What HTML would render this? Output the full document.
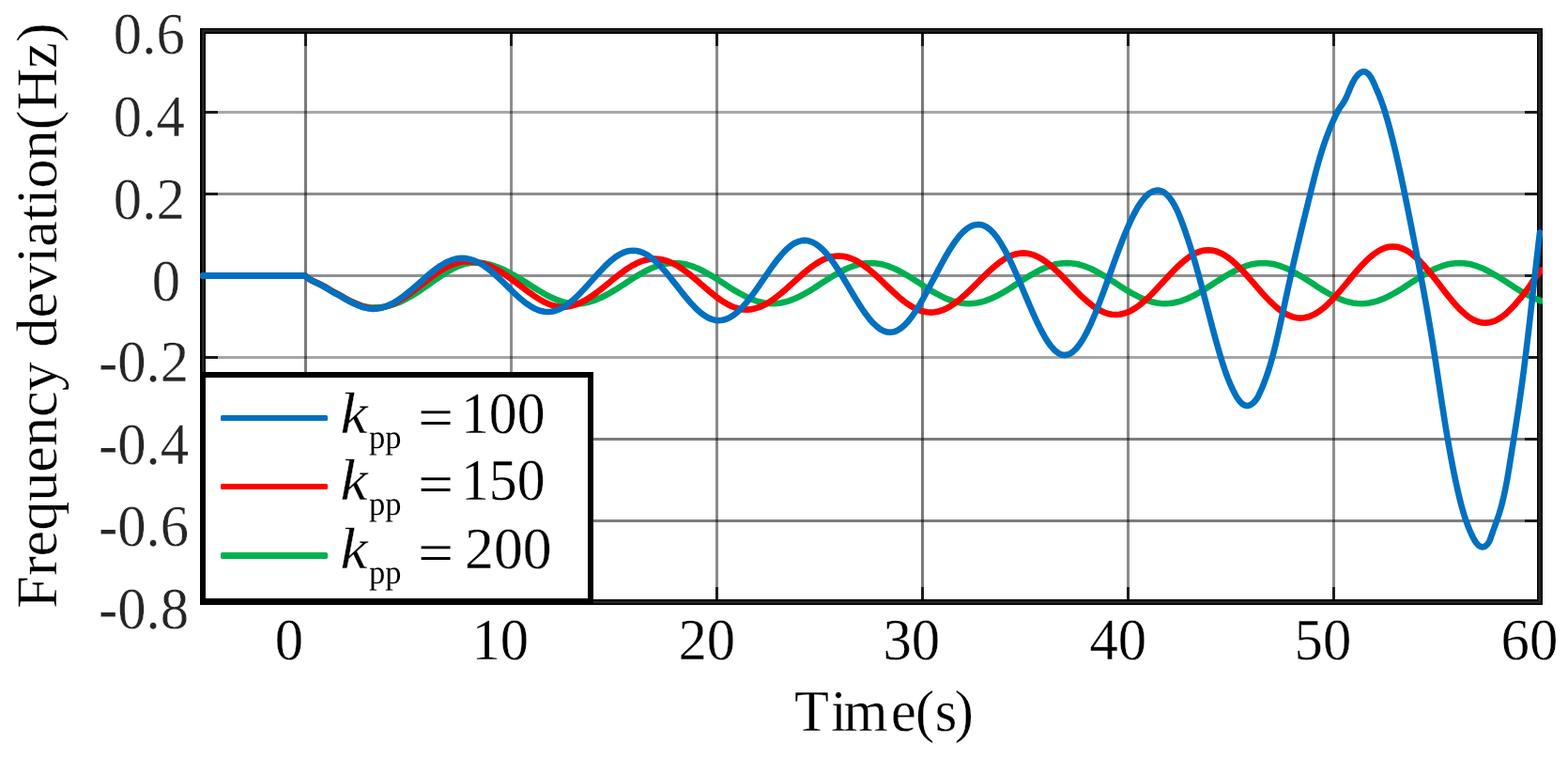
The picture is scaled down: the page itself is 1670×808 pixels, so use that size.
<!DOCTYPE html>
<html lang="en">
<head>
<meta charset="utf-8">
<title>Frequency deviation</title>
<style>
html,body{margin:0;padding:0;background:#fff;}
body{width:1670px;height:808px;overflow:hidden;}
svg{display:block;}
</style>
</head>
<body>
<svg width="1670" height="808" viewBox="0 0 1670 808">
<rect x="0" y="0" width="1670" height="808" fill="#fff"/>
<defs><clipPath id="cp"><rect x="213" y="30" width="1430" height="614"/></clipPath></defs>
<g stroke="#000" stroke-width="3" fill="none">
<line x1="325.5" y1="33.0" x2="325.5" y2="641.0" stroke-opacity="0.522"/>
<line x1="544.5" y1="33.0" x2="544.5" y2="641.0" stroke-opacity="0.443"/>
<line x1="763.5" y1="33.0" x2="763.5" y2="641.0" stroke-opacity="0.459"/>
<line x1="982.5" y1="33.0" x2="982.5" y2="641.0" stroke-opacity="0.522"/>
<line x1="1201.5" y1="33.0" x2="1201.5" y2="641.0" stroke-opacity="0.459"/>
<line x1="1420.5" y1="33.0" x2="1420.5" y2="641.0" stroke-opacity="0.443"/>
<line x1="216.0" y1="119.5" x2="1640.0" y2="119.5" stroke-opacity="0.341"/>
<line x1="216.0" y1="206.5" x2="1640.0" y2="206.5" stroke-opacity="0.443"/>
<line x1="216.0" y1="293.5" x2="1640.0" y2="293.5" stroke-opacity="0.435"/>
<line x1="216.0" y1="380.5" x2="1640.0" y2="380.5" stroke-opacity="0.349"/>
<line x1="216.0" y1="467.5" x2="1640.0" y2="467.5" stroke-opacity="0.514"/>
<line x1="216.0" y1="554.5" x2="1640.0" y2="554.5" stroke-opacity="0.514"/>
</g>
<g stroke="#1c1c1c" stroke-width="3" fill="none">
<line x1="325.5" y1="33.0" x2="325.5" y2="49.0"/>
<line x1="325.5" y1="641.0" x2="325.5" y2="625.0"/>
<line x1="544.5" y1="33.0" x2="544.5" y2="49.0"/>
<line x1="544.5" y1="641.0" x2="544.5" y2="625.0"/>
<line x1="763.5" y1="33.0" x2="763.5" y2="49.0"/>
<line x1="763.5" y1="641.0" x2="763.5" y2="625.0"/>
<line x1="982.5" y1="33.0" x2="982.5" y2="49.0"/>
<line x1="982.5" y1="641.0" x2="982.5" y2="625.0"/>
<line x1="1201.5" y1="33.0" x2="1201.5" y2="49.0"/>
<line x1="1201.5" y1="641.0" x2="1201.5" y2="625.0"/>
<line x1="1420.5" y1="33.0" x2="1420.5" y2="49.0"/>
<line x1="1420.5" y1="641.0" x2="1420.5" y2="625.0"/>
<line x1="216.0" y1="119.5" x2="232.0" y2="119.5"/>
<line x1="1640.0" y1="119.5" x2="1624.0" y2="119.5"/>
<line x1="216.0" y1="206.5" x2="232.0" y2="206.5"/>
<line x1="1640.0" y1="206.5" x2="1624.0" y2="206.5"/>
<line x1="216.0" y1="293.5" x2="232.0" y2="293.5"/>
<line x1="1640.0" y1="293.5" x2="1624.0" y2="293.5"/>
<line x1="216.0" y1="380.5" x2="232.0" y2="380.5"/>
<line x1="1640.0" y1="380.5" x2="1624.0" y2="380.5"/>
<line x1="216.0" y1="467.5" x2="232.0" y2="467.5"/>
<line x1="1640.0" y1="467.5" x2="1624.0" y2="467.5"/>
<line x1="216.0" y1="554.5" x2="232.0" y2="554.5"/>
<line x1="1640.0" y1="554.5" x2="1624.0" y2="554.5"/>
</g>
<rect x="216.0" y="33.0" width="1424.0" height="608.0" fill="none" stroke="#000" stroke-width="6"/>
<rect x="216.4" y="32.6" width="1423.2" height="608.6" fill="none" stroke="#262626" stroke-width="2.6"/>
<g fill="none" stroke-width="6.6" stroke-linejoin="round" stroke-linecap="round" clip-path="url(#cp)"><g transform="scale(1.000 1)">
<path stroke="#00b050" d="M216.50 293.5 L325.00 293.5 L326.50 294.8 L328.00 295.9 L329.50 297.0 L331.00 297.9 L332.50 298.7 L334.00 299.4 L335.50 300.1 L337.00 300.7 L338.50 301.4 L340.00 302.2 L341.50 302.9 L343.00 303.6 L344.50 304.4 L346.00 305.2 L347.50 306.1 L349.00 307.0 L350.50 307.9 L352.00 308.8 L353.50 309.7 L355.00 310.5 L356.50 311.3 L358.00 312.0 L359.50 312.8 L361.00 313.6 L362.50 314.4 L364.00 315.3 L365.50 316.2 L367.00 317.1 L368.50 317.9 L370.00 318.8 L371.50 319.5 L373.00 320.2 L374.50 320.9 L376.00 321.6 L377.50 322.2 L379.00 322.9 L380.50 323.5 L382.00 324.1 L383.50 324.7 L385.00 325.3 L386.50 325.8 L388.00 326.1 L389.50 326.5 L391.00 326.8 L392.50 327.1 L394.00 327.3 L395.50 327.5 L399.50 327.4 L404.42 327.2 L409.29 326.6 L414.13 325.6 L418.92 324.2 L423.66 322.5 L428.36 320.4 L433.02 318.0 L437.63 315.4 L442.20 312.6 L446.73 309.7 L451.21 306.6 L455.65 303.5 L460.04 300.4 L464.39 297.3 L468.70 294.4 L472.96 291.6 L477.18 289.0 L481.36 286.6 L485.49 284.5 L489.58 282.8 L493.63 281.4 L497.63 280.4 L501.59 279.8 L505.50 279.6 L510.27 279.8 L515.02 280.3 L519.74 281.3 L524.44 282.5 L529.12 284.1 L533.77 286.0 L538.41 288.1 L543.02 290.5 L547.60 293.1 L552.17 295.8 L556.71 298.6 L561.23 301.4 L565.73 304.3 L570.20 307.1 L574.65 309.8 L579.08 312.4 L583.49 314.8 L587.87 316.9 L592.23 318.8 L596.57 320.4 L600.89 321.6 L605.18 322.6 L609.45 323.1 L613.70 323.3 L618.06 323.1 L622.41 322.6 L626.77 321.7 L631.12 320.4 L635.48 318.8 L639.84 317.0 L644.19 314.8 L648.55 312.5 L652.91 309.9 L657.26 307.3 L661.62 304.5 L665.98 301.7 L670.33 298.8 L674.69 296.0 L679.04 293.4 L683.40 290.8 L687.76 288.5 L692.11 286.3 L696.47 284.5 L700.83 282.9 L705.18 281.6 L709.54 280.7 L713.89 280.2 L718.25 280.0 L722.60 280.2 L726.96 280.7 L731.31 281.6 L735.67 282.9 L740.02 284.5 L744.38 286.3 L748.73 288.5 L753.08 290.8 L757.44 293.3 L761.79 296.0 L766.15 298.8 L770.50 301.6 L774.85 304.4 L779.21 307.2 L783.56 309.9 L787.92 312.4 L792.27 314.7 L796.62 316.9 L800.98 318.7 L805.33 320.3 L809.69 321.6 L814.04 322.5 L818.40 323.0 L822.75 323.2 L827.10 323.0 L831.46 322.5 L835.81 321.6 L840.17 320.3 L844.52 318.7 L848.88 316.9 L853.23 314.7 L857.58 312.4 L861.94 309.9 L866.29 307.2 L870.65 304.4 L875.00 301.6 L879.35 298.8 L883.71 296.0 L888.06 293.3 L892.42 290.8 L896.77 288.5 L901.12 286.3 L905.48 284.5 L909.83 282.9 L914.19 281.6 L918.54 280.7 L922.90 280.2 L927.25 280.0 L931.60 280.2 L935.96 280.7 L940.31 281.6 L944.67 282.9 L949.02 284.5 L953.38 286.3 L957.73 288.5 L962.08 290.8 L966.44 293.3 L970.79 296.0 L975.15 298.8 L979.50 301.6 L983.85 304.4 L988.21 307.2 L992.56 309.9 L996.92 312.4 L1001.27 314.7 L1005.62 316.9 L1009.98 318.7 L1014.33 320.3 L1018.69 321.6 L1023.04 322.5 L1027.40 323.0 L1031.75 323.2 L1036.10 323.0 L1040.46 322.5 L1044.81 321.6 L1049.17 320.3 L1053.52 318.7 L1057.88 316.9 L1062.23 314.7 L1066.58 312.4 L1070.94 309.9 L1075.29 307.2 L1079.65 304.4 L1084.00 301.6 L1088.35 298.8 L1092.71 296.0 L1097.06 293.3 L1101.42 290.8 L1105.77 288.5 L1110.12 286.3 L1114.48 284.5 L1118.83 282.9 L1123.19 281.6 L1127.54 280.7 L1131.90 280.2 L1136.25 280.0 L1140.60 280.2 L1144.96 280.7 L1149.31 281.6 L1153.67 282.9 L1158.02 284.5 L1162.38 286.3 L1166.73 288.5 L1171.08 290.8 L1175.44 293.3 L1179.79 296.0 L1184.15 298.8 L1188.50 301.6 L1192.85 304.4 L1197.21 307.2 L1201.56 309.9 L1205.92 312.4 L1210.27 314.7 L1214.62 316.9 L1218.98 318.7 L1223.33 320.3 L1227.69 321.6 L1232.04 322.5 L1236.40 323.0 L1240.75 323.2 L1245.10 323.0 L1249.46 322.5 L1253.81 321.6 L1258.17 320.3 L1262.52 318.7 L1266.88 316.9 L1271.23 314.7 L1275.58 312.4 L1279.94 309.9 L1284.29 307.2 L1288.65 304.4 L1293.00 301.6 L1297.35 298.8 L1301.71 296.0 L1306.06 293.3 L1310.42 290.8 L1314.77 288.5 L1319.12 286.3 L1323.48 284.5 L1327.83 282.9 L1332.19 281.6 L1336.54 280.7 L1340.90 280.2 L1345.25 280.0 L1349.60 280.2 L1353.96 280.7 L1358.31 281.6 L1362.67 282.9 L1367.02 284.5 L1371.38 286.3 L1375.73 288.5 L1380.08 290.8 L1384.44 293.3 L1388.79 296.0 L1393.15 298.8 L1397.50 301.6 L1401.85 304.4 L1406.21 307.2 L1410.56 309.9 L1414.92 312.4 L1419.27 314.7 L1423.62 316.9 L1427.98 318.7 L1432.33 320.3 L1436.69 321.6 L1441.04 322.5 L1445.40 323.0 L1449.75 323.2 L1454.10 323.0 L1458.46 322.5 L1462.81 321.6 L1467.17 320.3 L1471.52 318.7 L1475.88 316.9 L1480.23 314.7 L1484.58 312.4 L1488.94 309.9 L1493.29 307.2 L1497.65 304.4 L1502.00 301.6 L1506.35 298.8 L1510.71 296.0 L1515.06 293.3 L1519.42 290.8 L1523.77 288.5 L1528.12 286.3 L1532.48 284.5 L1536.83 282.9 L1541.19 281.6 L1545.54 280.7 L1549.90 280.2 L1554.25 280.0 L1558.60 280.2 L1562.96 280.7 L1567.31 281.6 L1571.67 282.9 L1576.02 284.5 L1580.38 286.3 L1584.73 288.5 L1589.08 290.8 L1593.44 293.3 L1597.79 296.0 L1602.15 298.8 L1606.50 301.6 L1610.85 304.4 L1615.21 307.2 L1619.56 309.9 L1623.92 312.4 L1628.27 314.7 L1632.62 316.9 L1636.98 318.7 L1641.33 320.3"/>
<path stroke="#ff0000" d="M216.50 293.5 L325.00 293.5 L326.50 294.8 L328.00 296.0 L329.50 297.0 L331.00 297.9 L332.50 298.8 L334.00 299.5 L335.50 300.2 L337.00 300.9 L338.50 301.6 L340.00 302.3 L341.50 303.0 L343.00 303.8 L344.50 304.6 L346.00 305.4 L347.50 306.3 L349.00 307.2 L350.50 308.1 L352.00 309.1 L353.50 310.0 L355.00 310.8 L356.50 311.6 L358.00 312.4 L359.50 313.2 L361.00 314.0 L362.50 314.8 L364.00 315.7 L365.50 316.6 L367.00 317.5 L368.50 318.4 L370.00 319.2 L371.50 320.0 L373.00 320.7 L374.50 321.4 L376.00 322.1 L377.50 322.8 L379.00 323.4 L380.50 324.1 L382.00 324.7 L383.50 325.3 L385.00 325.9 L386.50 326.4 L388.00 326.7 L389.50 327.1 L391.00 327.4 L392.50 327.7 L394.00 327.9 L395.50 328.1 L398.00 328.3 L402.28 328.1 L406.54 327.4 L410.80 326.4 L415.05 324.9 L419.29 323.1 L423.52 321.0 L427.73 318.5 L431.94 315.8 L436.14 312.8 L440.33 309.7 L444.52 306.5 L448.69 303.2 L452.85 300.0 L457.00 296.8 L461.14 293.7 L465.28 290.7 L469.40 288.0 L473.52 285.5 L477.62 283.4 L481.72 281.6 L485.80 280.1 L489.88 279.1 L493.94 278.4 L498.00 278.2 L502.76 278.4 L507.46 279.0 L512.12 280.0 L516.74 281.5 L521.30 283.2 L525.82 285.3 L530.29 287.7 L534.71 290.3 L539.08 293.2 L543.41 296.2 L547.69 299.3 L551.92 302.5 L556.11 305.7 L560.25 308.8 L564.33 311.8 L568.38 314.6 L572.37 317.3 L576.32 319.7 L580.22 321.8 L584.07 323.5 L587.87 325.0 L591.63 326.0 L595.34 326.6 L599.00 326.8 L603.14 326.6 L607.27 325.9 L611.40 324.8 L615.52 323.4 L619.64 321.5 L623.76 319.3 L627.87 316.8 L631.99 314.0 L636.09 311.0 L640.20 307.8 L644.30 304.5 L648.40 301.2 L652.49 297.8 L656.58 294.5 L660.67 291.3 L664.75 288.3 L668.83 285.5 L672.91 283.0 L676.98 280.8 L681.05 278.9 L685.12 277.5 L689.18 276.4 L693.24 275.7 L697.30 275.5 L701.47 275.7 L705.63 276.4 L709.79 277.6 L713.93 279.1 L718.07 281.1 L722.20 283.4 L726.31 286.1 L730.42 289.0 L734.53 292.2 L738.62 295.5 L742.70 299.0 L746.78 302.6 L750.84 306.1 L754.90 309.6 L758.95 312.9 L762.99 316.1 L767.02 319.0 L771.05 321.7 L775.06 324.0 L779.07 326.0 L783.06 327.5 L787.05 328.7 L791.03 329.4 L795.00 329.6 L799.15 329.4 L803.30 328.6 L807.44 327.4 L811.57 325.8 L815.71 323.7 L819.83 321.2 L823.95 318.4 L828.07 315.3 L832.18 312.0 L836.29 308.4 L840.39 304.8 L844.49 301.1 L848.59 297.3 L852.67 293.7 L856.76 290.1 L860.84 286.8 L864.91 283.7 L868.98 280.9 L873.05 278.4 L877.11 276.3 L881.16 274.7 L885.21 273.5 L889.26 272.7 L893.30 272.5 L897.45 272.8 L901.59 273.5 L905.73 274.8 L909.86 276.5 L913.98 278.7 L918.10 281.3 L922.22 284.3 L926.33 287.5 L930.43 291.1 L934.53 294.8 L938.62 298.6 L942.70 302.6 L946.78 306.5 L950.86 310.3 L954.93 314.0 L958.99 317.6 L963.05 320.8 L967.10 323.8 L971.15 326.4 L975.19 328.6 L979.23 330.3 L983.26 331.6 L987.28 332.3 L991.30 332.6 L995.47 332.3 L999.63 331.5 L1003.79 330.2 L1007.94 328.4 L1012.08 326.1 L1016.22 323.3 L1020.36 320.2 L1024.49 316.8 L1028.61 313.1 L1032.73 309.2 L1036.84 305.1 L1040.95 301.0 L1045.05 296.9 L1049.14 292.8 L1053.23 288.9 L1057.32 285.2 L1061.40 281.8 L1065.47 278.7 L1069.54 275.9 L1073.60 273.6 L1077.66 271.8 L1081.71 270.5 L1085.76 269.7 L1089.80 269.4 L1093.89 269.7 L1097.99 270.5 L1102.08 271.9 L1106.18 273.8 L1110.27 276.2 L1114.37 279.0 L1118.47 282.2 L1122.56 285.8 L1126.66 289.6 L1130.76 293.7 L1134.86 297.9 L1138.96 302.2 L1143.06 306.5 L1147.16 310.7 L1151.26 314.8 L1155.36 318.6 L1159.47 322.2 L1163.57 325.4 L1167.67 328.2 L1171.78 330.6 L1175.88 332.5 L1179.99 333.9 L1184.09 334.7 L1188.20 335.0 L1192.44 334.7 L1196.67 333.8 L1200.89 332.4 L1205.10 330.4 L1209.29 327.9 L1213.48 324.9 L1217.65 321.5 L1221.81 317.8 L1225.96 313.8 L1230.10 309.5 L1234.22 305.1 L1238.34 300.6 L1242.44 296.1 L1246.53 291.7 L1250.61 287.4 L1254.68 283.4 L1258.73 279.7 L1262.78 276.3 L1266.81 273.3 L1270.83 270.8 L1274.84 268.8 L1278.84 267.4 L1282.83 266.5 L1286.80 266.2 L1290.91 266.5 L1295.02 267.4 L1299.13 269.0 L1303.24 271.0 L1307.34 273.7 L1311.44 276.8 L1315.54 280.4 L1319.64 284.3 L1323.74 288.5 L1327.84 293.0 L1331.93 297.7 L1336.02 302.4 L1340.11 307.1 L1344.20 311.8 L1348.29 316.3 L1352.38 320.5 L1356.46 324.4 L1360.54 328.0 L1364.62 331.1 L1368.70 333.8 L1372.78 335.8 L1376.85 337.4 L1380.93 338.3 L1385.00 338.6 L1389.21 338.3 L1393.41 337.3 L1397.60 335.7 L1401.78 333.5 L1405.95 330.7 L1410.12 327.5 L1414.27 323.7 L1418.42 319.6 L1422.55 315.1 L1426.68 310.4 L1430.80 305.5 L1434.91 300.6 L1439.01 295.6 L1443.10 290.7 L1447.18 286.0 L1451.25 281.5 L1455.31 277.4 L1459.37 273.6 L1463.41 270.4 L1467.45 267.6 L1471.48 265.4 L1475.49 263.8 L1479.50 262.8 L1483.50 262.5 L1487.68 262.8 L1491.85 263.9 L1496.02 265.6 L1500.17 267.9 L1504.32 270.9 L1508.46 274.4 L1512.59 278.4 L1516.71 282.8 L1520.83 287.6 L1524.94 292.6 L1529.04 297.8 L1533.13 303.1 L1537.21 308.4 L1541.29 313.6 L1545.35 318.6 L1549.41 323.4 L1553.46 327.8 L1557.51 331.8 L1561.54 335.3 L1565.57 338.3 L1569.59 340.6 L1573.60 342.3 L1577.60 343.4 L1581.60 343.7 L1583.10 343.6 L1584.60 343.5 L1586.10 343.2 L1587.60 342.9 L1589.10 342.5 L1590.60 342.1 L1592.10 341.6 L1593.60 340.9 L1595.10 340.1 L1596.60 339.2 L1598.10 338.3 L1599.60 337.3 L1601.10 336.2 L1602.60 335.0 L1604.10 333.8 L1605.60 332.4 L1607.10 330.9 L1608.60 329.4 L1610.10 327.9 L1611.60 326.3 L1613.10 324.7 L1614.60 323.0 L1616.10 321.2 L1617.60 319.4 L1619.10 317.6 L1620.60 315.8 L1622.10 313.9 L1623.60 311.9 L1625.10 309.9 L1626.60 307.9 L1628.10 305.9 L1629.60 303.8 L1631.10 301.6 L1632.60 299.4 L1634.10 297.2 L1635.60 295.1 L1637.10 293.1 L1638.60 291.2 L1640.10 289.3 L1641.50 287.6"/>
<path stroke="#0070c0" d="M216.50 293.5 L325.00 293.5 L326.50 294.8 L328.00 296.0 L329.50 297.1 L331.00 298.0 L332.50 298.8 L334.00 299.6 L335.50 300.3 L337.00 301.0 L338.50 301.7 L340.00 302.5 L341.50 303.2 L343.00 304.0 L344.50 304.8 L346.00 305.7 L347.50 306.6 L349.00 307.5 L350.50 308.4 L352.00 309.4 L353.50 310.3 L355.00 311.1 L356.50 312.0 L358.00 312.8 L359.50 313.6 L361.00 314.4 L362.50 315.2 L364.00 316.1 L365.50 317.0 L367.00 318.0 L368.50 318.9 L370.00 319.7 L371.50 320.5 L373.00 321.3 L374.50 322.0 L376.00 322.7 L377.50 323.4 L379.00 324.0 L380.50 324.7 L382.00 325.4 L383.50 326.0 L385.00 326.6 L386.50 327.1 L388.00 327.4 L389.50 327.8 L391.00 328.1 L392.50 328.4 L394.00 328.6 L395.50 328.8 L396.50 328.9 L400.72 328.7 L404.91 328.0 L409.09 326.8 L413.24 325.3 L417.38 323.3 L421.50 321.0 L425.59 318.3 L429.67 315.4 L433.73 312.2 L437.76 308.9 L441.78 305.4 L445.78 301.9 L449.76 298.4 L453.71 294.9 L457.65 291.6 L461.57 288.4 L465.47 285.5 L469.35 282.8 L473.21 280.5 L477.04 278.5 L480.86 277.0 L484.66 275.8 L488.44 275.1 L492.20 274.9 L496.18 275.1 L500.15 275.9 L504.10 277.1 L508.04 278.7 L511.96 280.8 L515.86 283.3 L519.74 286.1 L523.61 289.2 L527.47 292.5 L531.30 296.1 L535.12 299.7 L538.93 303.4 L542.72 307.2 L546.49 310.8 L550.24 314.4 L553.98 317.7 L557.70 320.8 L561.41 323.6 L565.10 326.1 L568.77 328.2 L572.43 329.8 L576.07 331.0 L579.69 331.8 L583.30 332.0 L587.23 331.7 L591.15 330.9 L595.05 329.5 L598.95 327.6 L602.83 325.3 L606.70 322.4 L610.55 319.2 L614.39 315.7 L618.23 311.8 L622.04 307.8 L625.85 303.6 L629.64 299.4 L633.43 295.1 L637.19 290.9 L640.95 286.9 L644.69 283.0 L648.43 279.5 L652.15 276.3 L655.85 273.4 L659.55 271.1 L663.23 269.2 L666.90 267.8 L670.56 267.0 L674.20 266.7 L678.12 267.0 L682.02 268.0 L685.92 269.5 L689.80 271.7 L693.68 274.4 L697.55 277.6 L701.40 281.3 L705.25 285.3 L709.09 289.7 L712.92 294.3 L716.74 299.1 L720.55 303.9 L724.35 308.8 L728.13 313.6 L731.91 318.2 L735.69 322.6 L739.45 326.6 L743.20 330.3 L746.94 333.5 L750.67 336.2 L754.39 338.4 L758.10 339.9 L761.81 340.9 L765.50 341.2 L769.47 340.8 L773.42 339.7 L777.36 338.0 L781.28 335.5 L785.19 332.4 L789.09 328.7 L792.97 324.5 L796.84 319.9 L800.70 314.9 L804.54 309.6 L808.37 304.1 L812.19 298.6 L815.99 293.0 L819.78 287.5 L823.55 282.2 L827.31 277.2 L831.06 272.6 L834.79 268.4 L838.51 264.7 L842.21 261.6 L845.91 259.1 L849.58 257.4 L853.25 256.3 L856.90 255.9 L860.86 256.3 L864.81 257.6 L868.74 259.6 L872.65 262.5 L876.56 266.0 L880.45 270.2 L884.32 275.1 L888.18 280.4 L892.03 286.1 L895.86 292.2 L899.67 298.5 L903.48 304.9 L907.27 311.2 L911.04 317.5 L914.80 323.6 L918.55 329.3 L922.28 334.6 L926.00 339.5 L929.70 343.7 L933.39 347.2 L937.06 350.1 L940.72 352.1 L944.37 353.4 L948.00 353.8 L951.86 353.3 L955.72 351.8 L959.59 349.4 L963.47 346.1 L967.35 341.9 L971.23 337.0 L975.12 331.3 L979.01 325.1 L982.91 318.3 L986.82 311.2 L990.73 303.8 L994.64 296.4 L998.56 288.9 L1002.48 281.5 L1006.41 274.4 L1010.35 267.6 L1014.29 261.4 L1018.23 255.7 L1022.18 250.8 L1026.13 246.6 L1030.09 243.3 L1034.06 240.9 L1038.03 239.4 L1042.00 238.9 L1046.08 239.5 L1050.15 241.3 L1054.19 244.2 L1058.21 248.2 L1062.20 253.3 L1066.18 259.3 L1070.13 266.1 L1074.06 273.7 L1077.97 281.9 L1081.86 290.5 L1085.73 299.4 L1089.57 308.5 L1093.39 317.6 L1097.19 326.5 L1100.97 335.1 L1104.73 343.3 L1108.46 350.9 L1112.18 357.7 L1115.87 363.7 L1119.54 368.8 L1123.19 372.8 L1126.81 375.7 L1130.42 377.5 L1134.00 378.1 L1138.00 377.3 L1142.01 375.1 L1146.03 371.4 L1150.06 366.3 L1154.10 360.0 L1158.15 352.4 L1162.21 343.8 L1166.27 334.2 L1170.35 323.9 L1174.44 313.1 L1178.54 301.8 L1182.65 290.4 L1186.76 278.9 L1190.89 267.6 L1195.03 256.8 L1199.17 246.5 L1203.33 236.9 L1207.50 228.3 L1211.67 220.7 L1215.86 214.4 L1220.05 209.3 L1224.26 205.6 L1228.47 203.4 L1232.70 202.6 L1234.97 202.8 L1237.06 203.4 L1238.99 204.3 L1240.77 205.5 L1242.41 206.8 L1243.93 208.4 L1245.35 210.1 L1246.68 211.8 L1247.94 213.6 L1249.12 215.4 L1250.23 217.3 L1251.29 219.2 L1252.29 221.1 L1253.25 223.0 L1254.16 225.0 L1255.03 226.9 L1255.86 228.9 L1256.67 230.9 L1257.46 232.9 L1258.23 235.0 L1258.98 237.0 L1259.73 239.0 L1260.47 241.0 L1261.20 243.1 L1261.92 245.1 L1262.63 247.1 L1263.33 249.2 L1264.03 251.2 L1264.71 253.3 L1265.39 255.3 L1266.07 257.4 L1266.73 259.4 L1267.39 261.5 L1268.04 263.5 L1268.69 265.6 L1269.32 267.7 L1269.96 269.7 L1270.58 271.8 L1271.20 273.9 L1271.81 276.0 L1272.42 278.0 L1273.03 280.1 L1273.62 282.2 L1274.22 284.3 L1274.80 286.3 L1275.39 288.4 L1275.97 290.5 L1276.54 292.6 L1277.11 294.7 L1277.68 296.7 L1278.24 298.8 L1278.80 300.9 L1279.36 303.0 L1279.91 305.1 L1280.46 307.2 L1281.01 309.3 L1281.56 311.4 L1282.11 313.4 L1282.65 315.5 L1283.19 317.6 L1283.73 319.7 L1284.28 321.8 L1284.82 323.9 L1285.36 326.0 L1285.90 328.1 L1286.44 330.2 L1286.98 332.2 L1287.52 334.3 L1288.06 336.4 L1288.61 338.5 L1289.15 340.6 L1289.70 342.7 L1290.25 344.8 L1290.80 346.9 L1291.35 349.0 L1291.91 351.0 L1292.47 353.1 L1293.03 355.2 L1293.60 357.3 L1294.17 359.4 L1294.74 361.5 L1295.32 363.5 L1295.90 365.6 L1296.49 367.7 L1297.08 369.8 L1297.68 371.8 L1298.28 373.9 L1298.89 376.0 L1299.51 378.1 L1300.13 380.1 L1300.76 382.2 L1301.39 384.3 L1302.04 386.3 L1302.69 388.4 L1303.36 390.4 L1304.05 392.5 L1304.74 394.5 L1305.46 396.6 L1306.19 398.6 L1306.94 400.6 L1307.71 402.6 L1308.50 404.6 L1309.32 406.6 L1310.16 408.6 L1311.03 410.5 L1311.92 412.5 L1312.84 414.5 L1313.80 416.4 L1314.78 418.3 L1315.80 420.3 L1316.87 422.2 L1318.04 424.1 L1319.34 425.9 L1320.80 427.7 L1322.44 429.3 L1324.23 430.7 L1326.12 431.6 L1328.09 432.0 L1330.09 431.7 L1332.07 430.9 L1333.96 429.6 L1335.70 428.0 L1337.22 426.3 L1338.51 424.5 L1339.64 422.6 L1340.64 420.7 L1341.57 418.7 L1342.47 416.7 L1343.34 414.7 L1344.19 412.8 L1345.02 410.8 L1345.83 408.8 L1346.61 406.8 L1347.38 404.7 L1348.12 402.7 L1348.85 400.7 L1349.56 398.6 L1350.25 396.6 L1350.92 394.6 L1351.58 392.5 L1352.22 390.4 L1352.84 388.4 L1353.45 386.3 L1354.05 384.2 L1354.63 382.2 L1355.21 380.1 L1355.77 378.0 L1356.32 375.9 L1356.85 373.8 L1357.38 371.7 L1357.90 369.6 L1358.41 367.5 L1358.92 365.4 L1359.42 363.3 L1359.91 361.2 L1360.39 359.1 L1360.87 357.0 L1361.35 354.9 L1361.82 352.8 L1362.29 350.7 L1362.76 348.6 L1363.22 346.5 L1363.69 344.4 L1364.15 342.2 L1364.61 340.1 L1365.08 338.0 L1365.54 335.9 L1365.99 333.8 L1366.45 331.7 L1366.91 329.6 L1367.37 327.5 L1367.83 325.4 L1368.28 323.3 L1368.74 321.2 L1369.20 319.0 L1369.65 316.9 L1370.11 314.8 L1370.56 312.7 L1371.02 310.6 L1371.48 308.5 L1371.94 306.4 L1372.40 304.3 L1372.86 302.2 L1373.32 300.1 L1373.78 298.0 L1374.24 295.9 L1374.70 293.7 L1375.17 291.6 L1375.64 289.5 L1376.10 287.4 L1376.57 285.3 L1377.04 283.2 L1377.52 281.1 L1377.99 279.0 L1378.47 276.9 L1378.95 274.8 L1379.43 272.7 L1379.92 270.6 L1380.40 268.5 L1380.89 266.4 L1381.38 264.3 L1381.88 262.2 L1382.37 260.1 L1382.87 258.0 L1383.37 255.9 L1383.87 253.8 L1384.37 251.7 L1384.88 249.6 L1385.38 247.5 L1385.89 245.4 L1386.40 243.3 L1386.91 241.2 L1387.42 239.1 L1387.94 237.0 L1388.45 234.9 L1388.97 232.8 L1389.48 230.7 L1390.00 228.6 L1390.52 226.5 L1391.03 224.4 L1391.55 222.3 L1392.07 220.2 L1392.59 218.1 L1393.11 216.0 L1393.63 213.9 L1394.15 211.8 L1394.67 209.7 L1395.19 207.6 L1395.71 205.5 L1396.23 203.4 L1396.74 201.3 L1397.27 199.2 L1397.79 197.2 L1398.31 195.1 L1398.84 193.0 L1399.37 190.9 L1399.90 188.8 L1400.44 186.7 L1400.99 184.6 L1401.54 182.5 L1402.09 180.5 L1402.66 178.4 L1403.23 176.3 L1403.81 174.2 L1404.39 172.2 L1404.99 170.1 L1405.59 168.0 L1406.21 165.9 L1406.84 163.9 L1407.48 161.8 L1408.13 159.8 L1408.79 157.7 L1409.47 155.6 L1410.15 153.6 L1410.86 151.5 L1411.58 149.5 L1412.31 147.5 L1413.06 145.4 L1413.83 143.4 L1414.61 141.4 L1415.40 139.3 L1416.21 137.3 L1417.03 135.3 L1417.87 133.3 L1418.72 131.3 L1419.58 129.4 L1420.46 127.4 L1421.35 125.5 L1422.26 123.5 L1423.17 121.6 L1424.13 119.7 L1425.13 117.8 L1426.22 116.0 L1427.40 114.2 L1428.66 112.4 L1429.93 110.6 L1431.11 108.8 L1432.19 106.9 L1433.17 105.1 L1434.09 103.2 L1434.95 101.2 L1435.78 99.3 L1436.59 97.3 L1437.40 95.3 L1438.23 93.3 L1439.09 91.3 L1440.01 89.3 L1441.00 87.3 L1442.08 85.4 L1443.28 83.4 L1444.61 81.6 L1446.10 79.8 L1447.75 78.3 L1449.52 77.0 L1451.36 76.3 L1453.19 76.2 L1454.97 76.9 L1456.67 78.1 L1458.25 79.8 L1459.69 81.7 L1460.95 83.8 L1462.03 85.9 L1462.98 87.9 L1463.86 90.0 L1464.72 92.0 L1465.58 94.0 L1466.45 95.9 L1467.30 97.9 L1468.14 99.8 L1468.96 101.8 L1469.75 103.8 L1470.52 105.8 L1471.26 107.8 L1471.99 109.8 L1472.70 111.8 L1473.39 113.9 L1474.07 115.9 L1474.73 118.0 L1475.37 120.1 L1476.00 122.2 L1476.62 124.2 L1477.23 126.3 L1477.83 128.4 L1478.41 130.5 L1478.99 132.6 L1479.56 134.6 L1480.13 136.7 L1480.68 138.8 L1481.23 140.9 L1481.77 143.0 L1482.31 145.1 L1482.84 147.2 L1483.36 149.3 L1483.88 151.4 L1484.39 153.5 L1484.90 155.6 L1485.40 157.7 L1485.90 159.7 L1486.40 161.8 L1486.89 163.9 L1487.38 166.0 L1487.86 168.2 L1488.34 170.3 L1488.82 172.4 L1489.29 174.5 L1489.76 176.6 L1490.23 178.7 L1490.69 180.8 L1491.16 182.9 L1491.61 185.0 L1492.07 187.1 L1492.52 189.2 L1492.97 191.3 L1493.42 193.4 L1493.86 195.6 L1494.31 197.7 L1494.75 199.8 L1495.19 201.9 L1495.62 204.0 L1496.06 206.1 L1496.49 208.2 L1496.92 210.4 L1497.35 212.5 L1497.78 214.6 L1498.21 216.7 L1498.64 218.8 L1499.06 220.9 L1499.49 223.1 L1499.91 225.2 L1500.33 227.3 L1500.76 229.4 L1501.18 231.5 L1501.60 233.7 L1502.02 235.8 L1502.44 237.9 L1502.86 240.0 L1503.28 242.1 L1503.70 244.2 L1504.12 246.4 L1504.54 248.5 L1504.95 250.6 L1505.37 252.7 L1505.79 254.8 L1506.20 257.0 L1506.62 259.1 L1507.03 261.2 L1507.45 263.3 L1507.86 265.4 L1508.27 267.6 L1508.68 269.7 L1509.09 271.8 L1509.50 273.9 L1509.91 276.0 L1510.32 278.2 L1510.72 280.3 L1511.13 282.4 L1511.53 284.5 L1511.94 286.7 L1512.34 288.8 L1512.74 290.9 L1513.14 293.0 L1513.54 295.1 L1513.94 297.3 L1514.34 299.4 L1514.73 301.5 L1515.13 303.6 L1515.52 305.8 L1515.91 307.9 L1516.30 310.0 L1516.69 312.1 L1517.08 314.3 L1517.46 316.4 L1517.85 318.5 L1518.23 320.6 L1518.61 322.8 L1518.99 324.9 L1519.37 327.0 L1519.75 329.1 L1520.12 331.3 L1520.50 333.4 L1520.87 335.5 L1521.24 337.6 L1521.61 339.8 L1521.98 341.9 L1522.34 344.0 L1522.70 346.2 L1523.07 348.3 L1523.43 350.4 L1523.78 352.5 L1524.14 354.7 L1524.49 356.8 L1524.84 358.9 L1525.19 361.1 L1525.54 363.2 L1525.89 365.3 L1526.23 367.5 L1526.57 369.6 L1526.91 371.7 L1527.25 373.9 L1527.59 376.0 L1527.92 378.1 L1528.26 380.3 L1528.59 382.4 L1528.92 384.5 L1529.25 386.7 L1529.57 388.8 L1529.90 390.9 L1530.23 393.1 L1530.55 395.2 L1530.88 397.3 L1531.20 399.5 L1531.52 401.6 L1531.85 403.7 L1532.17 405.9 L1532.49 408.0 L1532.81 410.1 L1533.14 412.3 L1533.46 414.4 L1533.78 416.5 L1534.11 418.7 L1534.43 420.8 L1534.76 422.9 L1535.08 425.1 L1535.41 427.2 L1535.73 429.4 L1536.06 431.5 L1536.39 433.6 L1536.72 435.8 L1537.06 437.9 L1537.39 440.0 L1537.72 442.2 L1538.06 444.3 L1538.40 446.4 L1538.74 448.6 L1539.08 450.7 L1539.43 452.8 L1539.77 454.9 L1540.12 457.1 L1540.48 459.2 L1540.83 461.3 L1541.19 463.5 L1541.55 465.6 L1541.91 467.7 L1542.28 469.9 L1542.64 472.0 L1543.02 474.1 L1543.39 476.2 L1543.77 478.4 L1544.15 480.5 L1544.54 482.6 L1544.93 484.7 L1545.32 486.9 L1545.72 489.0 L1546.12 491.1 L1546.53 493.2 L1546.94 495.4 L1547.35 497.5 L1547.77 499.6 L1548.20 501.7 L1548.62 503.8 L1549.06 506.0 L1549.50 508.1 L1549.94 510.2 L1550.39 512.3 L1550.84 514.4 L1551.30 516.5 L1551.77 518.6 L1552.24 520.8 L1552.71 522.9 L1553.20 525.0 L1553.69 527.1 L1554.20 529.2 L1554.71 531.3 L1555.23 533.4 L1555.77 535.5 L1556.32 537.6 L1556.88 539.6 L1557.46 541.7 L1558.05 543.8 L1558.66 545.8 L1559.29 547.9 L1559.94 549.9 L1560.61 551.9 L1561.29 554.0 L1562.00 556.0 L1562.74 558.0 L1563.49 560.0 L1564.28 562.0 L1565.11 564.0 L1565.96 566.0 L1566.86 568.0 L1567.79 570.0 L1568.77 572.0 L1569.82 574.0 L1570.98 576.0 L1572.31 577.9 L1573.85 579.7 L1575.54 581.1 L1577.34 582.1 L1579.19 582.4 L1581.02 582.0 L1582.77 580.8 L1584.33 579.2 L1585.63 577.3 L1586.64 575.3 L1587.46 573.2 L1588.19 571.0 L1588.92 568.9 L1589.66 566.8 L1590.40 564.7 L1591.15 562.7 L1591.89 560.6 L1592.62 558.6 L1593.35 556.6 L1594.07 554.5 L1594.78 552.5 L1595.46 550.5 L1596.13 548.5 L1596.78 546.5 L1597.41 544.4 L1598.01 542.4 L1598.60 540.3 L1599.16 538.3 L1599.71 536.2 L1600.24 534.1 L1600.75 532.0 L1601.25 529.9 L1601.73 527.8 L1602.19 525.7 L1602.65 523.6 L1603.09 521.5 L1603.52 519.4 L1603.93 517.3 L1604.34 515.1 L1604.73 513.0 L1605.12 510.9 L1605.50 508.8 L1605.87 506.6 L1606.24 504.5 L1606.60 502.3 L1606.95 500.2 L1607.30 498.1 L1607.65 495.9 L1607.99 493.8 L1608.33 491.6 L1608.67 489.5 L1609.01 487.3 L1609.35 485.2 L1609.69 483.1 L1610.03 480.9 L1610.37 478.8 L1610.72 476.6 L1611.06 474.5 L1611.40 472.4 L1611.74 470.2 L1612.08 468.1 L1612.42 466.0 L1612.76 463.8 L1613.09 461.7 L1613.43 459.6 L1613.77 457.4 L1614.10 455.3 L1614.44 453.2 L1614.77 451.0 L1615.10 448.9 L1615.43 446.8 L1615.76 444.6 L1616.09 442.5 L1616.41 440.4 L1616.74 438.2 L1617.06 436.1 L1617.38 434.0 L1617.69 431.9 L1618.01 429.7 L1618.32 427.6 L1618.63 425.5 L1618.94 423.3 L1619.24 421.2 L1619.54 419.0 L1619.84 416.9 L1620.14 414.8 L1620.43 412.6 L1620.73 410.5 L1621.02 408.4 L1621.31 406.2 L1621.59 404.1 L1621.88 401.9 L1622.16 399.8 L1622.44 397.7 L1622.72 395.5 L1623.00 393.4 L1623.27 391.2 L1623.54 389.1 L1623.81 387.0 L1624.08 384.8 L1624.35 382.7 L1624.62 380.5 L1624.88 378.4 L1625.15 376.2 L1625.41 374.1 L1625.67 372.0 L1625.93 369.8 L1626.19 367.7 L1626.44 365.5 L1626.70 363.4 L1626.95 361.2 L1627.21 359.1 L1627.46 356.9 L1627.71 354.8 L1627.96 352.6 L1628.21 350.5 L1628.46 348.3 L1628.71 346.2 L1628.95 344.1 L1629.20 341.9 L1629.44 339.8 L1629.69 337.6 L1629.93 335.5 L1630.18 333.3 L1630.42 331.2 L1630.66 329.0 L1630.90 326.9 L1631.15 324.7 L1631.39 322.6 L1631.63 320.4 L1631.87 318.3 L1632.11 316.1 L1632.35 314.0 L1632.59 311.8 L1632.83 309.7 L1633.07 307.5 L1633.31 305.4 L1633.55 303.3 L1633.80 301.1 L1634.04 299.0 L1634.28 296.8 L1634.52 294.7 L1634.76 292.5 L1635.00 290.4 L1635.25 288.2 L1635.49 286.1 L1635.73 283.9 L1635.98 281.8 L1636.22 279.6 L1636.47 277.5 L1636.71 275.4 L1636.96 273.2 L1637.21 271.1 L1637.46 268.9 L1637.71 266.8 L1637.96 264.6 L1638.21 262.5 L1638.46 260.3 L1638.71 258.2 L1638.97 256.1 L1639.22 253.9 L1639.48 251.8 L1639.74 249.6 L1640.00 247.5"/>
<path stroke="#0070c0" stroke-width="7" d="M216.5 293.5 L323 293.5"/>
</g></g>
<rect x="216" y="399" width="413" height="241.5" fill="#fff" stroke="#000" stroke-width="6"/>
<rect x="213" y="637" width="419" height="7" fill="#000"/>
<rect x="235" y="442.0" width="114" height="6.0" rx="1.6" fill="#0070c0"/>
<rect x="235" y="515.0" width="114" height="6.0" rx="1.6" fill="#ff0000"/>
<rect x="235" y="588.0" width="114" height="6.9" rx="1.6" fill="#00b050"/>
<g font-family="'Liberation Serif', serif" style="font-kerning:none" text-rendering="geometricPrecision" stroke-linejoin="miter">
<text transform="translate(362.52 461.40) scale(1.0463 1)" font-size="62.50" fill="#000" font-style="italic" stroke="#fff" stroke-width="0.35">k</text>
<text transform="translate(393.04 477.10) scale(0.9719 1)" font-size="35.50" fill="#000" stroke="none">pp</text>
<text transform="translate(445.62 463.92) scale(1.1317 1)" font-size="58.20" fill="#000" stroke="#000" stroke-width="0.15">=</text>
<text transform="translate(490.95 461.40) scale(0.9549 1)" font-size="62.50" fill="#000" stroke="#fff" stroke-width="0.35">100</text>
<text transform="translate(362.52 532.40) scale(1.0463 1)" font-size="62.50" fill="#000" font-style="italic" stroke="#fff" stroke-width="0.35">k</text>
<text transform="translate(393.04 548.10) scale(0.9719 1)" font-size="35.50" fill="#000" stroke="none">pp</text>
<text transform="translate(445.62 534.92) scale(1.1317 1)" font-size="58.20" fill="#000" stroke="#000" stroke-width="0.15">=</text>
<text transform="translate(490.95 532.40) scale(0.9549 1)" font-size="62.50" fill="#000" stroke="#fff" stroke-width="0.35">150</text>
<text transform="translate(362.52 605.40) scale(1.0463 1)" font-size="62.50" fill="#000" font-style="italic" stroke="#fff" stroke-width="0.35">k</text>
<text transform="translate(393.04 621.10) scale(0.9719 1)" font-size="35.50" fill="#000" stroke="none">pp</text>
<text transform="translate(445.62 607.92) scale(1.1317 1)" font-size="58.20" fill="#000" stroke="#000" stroke-width="0.15">=</text>
<text transform="translate(494.99 605.40) scale(0.9885 1)" font-size="62.50" fill="#000" stroke="#fff" stroke-width="0.35">200</text>
<text transform="translate(120.84 56.70) scale(0.9720 1)" font-size="62.50" fill="#262626" stroke="#fff" stroke-width="0.35">0.6</text>
<text transform="translate(120.84 144.70) scale(0.9720 1)" font-size="62.50" fill="#262626" stroke="#fff" stroke-width="0.35">0.4</text>
<text transform="translate(120.84 232.50) scale(0.9720 1)" font-size="62.50" fill="#262626" stroke="#fff" stroke-width="0.35">0.2</text>
<text transform="translate(161.74 319.70) scale(0.9720 1)" font-size="62.50" fill="#262626" stroke="#fff" stroke-width="0.35">0</text>
<text transform="translate(104.90 406.20) scale(0.9720 1)" font-size="62.50" fill="#262626" stroke="#fff" stroke-width="0.35">-0.2</text>
<text transform="translate(104.90 493.70) scale(0.9720 1)" font-size="62.50" fill="#262626" stroke="#fff" stroke-width="0.35">-0.4</text>
<text transform="translate(104.90 580.70) scale(0.9720 1)" font-size="62.50" fill="#262626" stroke="#fff" stroke-width="0.35">-0.6</text>
<text transform="translate(104.90 668.70) scale(0.9720 1)" font-size="62.50" fill="#262626" stroke="#fff" stroke-width="0.35">-0.8</text>
<text transform="translate(292.69 701.50) scale(0.9720 1)" font-size="62.50" fill="#000" stroke="#fff" stroke-width="0.35">0</text>
<text transform="translate(502.41 701.50) scale(0.9720 1)" font-size="62.50" fill="#000" stroke="#fff" stroke-width="0.35">10</text>
<text transform="translate(722.41 701.50) scale(0.9720 1)" font-size="62.50" fill="#000" stroke="#fff" stroke-width="0.35">20</text>
<text transform="translate(940.41 701.50) scale(0.9720 1)" font-size="62.50" fill="#000" stroke="#fff" stroke-width="0.35">30</text>
<text transform="translate(1160.41 701.50) scale(0.9720 1)" font-size="62.50" fill="#000" stroke="#fff" stroke-width="0.35">40</text>
<text transform="translate(1378.51 701.50) scale(0.9720 1)" font-size="62.50" fill="#000" stroke="#fff" stroke-width="0.35">50</text>
<text transform="translate(1598.51 701.50) scale(0.9720 1)" font-size="62.50" fill="#000" stroke="#fff" stroke-width="0.35">60</text>
<text transform="translate(846.11 778.10) scale(0.9666 1)" font-size="62.50" fill="#000" dx="0.00 1.97 -3.21 3.41 -0.83 0.83 -2.79" stroke="#fff" stroke-width="0.35">Time(s)</text>
<text transform="translate(60.30 647.69) rotate(-90) scale(1.0095 1)" font-size="61.60" fill="#000" stroke="#fff" stroke-width="0.35">Frequency deviation(Hz)</text>
</g>
</svg>
</body>
</html>
